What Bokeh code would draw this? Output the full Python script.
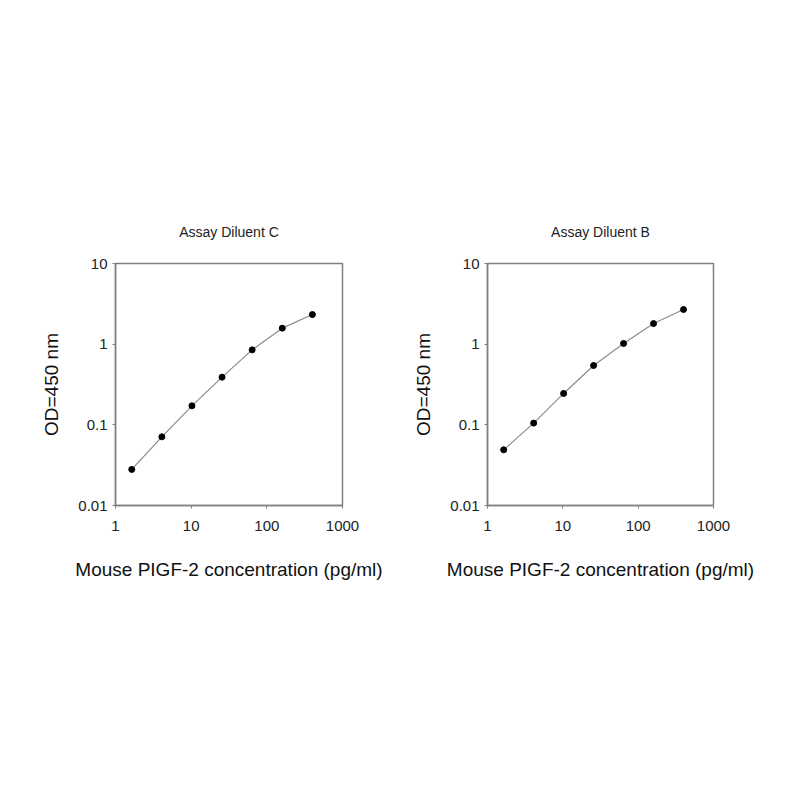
from bokeh.plotting import figure
from bokeh.layouts import row
from bokeh.models import FixedTicker, CustomJSTickFormatter
from bokeh.embed import file_html
from bokeh.resources import INLINE

conc = [1.64, 4.1, 10.24, 25.6, 64, 160, 400]
od_c = [0.028, 0.071, 0.172, 0.39, 0.85, 1.58, 2.33]
od_b = [0.049, 0.105, 0.245, 0.544, 1.02, 1.80, 2.69]
x_ticks = [1, 10, 100, 1000]
y_ticks = [0.01, 0.1, 1, 10]
titles = ["Assay Diluent C", "Assay Diluent B"]
x_label = "Mouse PIGF-2 concentration (pg/ml)"
y_label = "OD=450 nm"

FONT = "Liberation Sans"


def make(title, y, width, left, right):
    p = figure(width=width, height=630, x_axis_type="log", y_axis_type="log",
               x_range=(1, 1000), y_range=(0.01, 10),
               output_backend="svg", toolbar_location=None,
               min_border_left=left, min_border_right=right,
               min_border_top=263, min_border_bottom=125,
               title=title)
    p.title.align = "center"
    p.title.text_font = FONT
    p.title.text_font_size = "14px"
    p.title.text_font_style = "normal"
    p.title.text_color = "#222222"
    p.title.standoff = 48
    p.grid.visible = False
    p.outline_line_color = "#808080"
    p.outline_line_width = 1.5
    for ax in (p.xaxis[0], p.yaxis[0]):
        ax.axis_line_color = "#808080"
        ax.axis_line_width = 1.5
        ax.major_tick_line_color = "#808080"
        ax.major_tick_out = 3
        ax.major_tick_in = 0
        ax.minor_tick_line_color = None
        ax.major_label_text_font = FONT
        ax.major_label_text_font_size = "15px"
        ax.major_label_text_color = "#222222"
        ax.axis_label_text_font = FONT
        ax.axis_label_text_font_size = "19px"
        ax.axis_label_text_font_style = "normal"
        ax.axis_label_text_color = "#111111"
    p.xaxis.ticker = FixedTicker(ticks=x_ticks)
    p.yaxis.ticker = FixedTicker(ticks=y_ticks)
    p.xaxis.formatter = CustomJSTickFormatter(code="return tick.toString();")
    p.yaxis.formatter = CustomJSTickFormatter(code="return tick.toString();")
    p.xaxis.axis_label = x_label
    p.yaxis.axis_label = y_label
    p.xaxis.major_label_standoff = 12
    p.yaxis.major_label_standoff = 5
    p.xaxis.axis_label_standoff = 25
    p.yaxis.axis_label_standoff = 13
    p.line(conc, y, line_color="#8c8c8c", line_width=1.2)
    p.scatter(conc, y, size=6, color="black")
    return p


p1 = make(titles[0], od_c, 390, 115, 48)
p2 = make(titles[1], od_b, 385, 97, 62)
layout = row(p1, p2)

open("out.html", "w").write(file_html(layout, INLINE))
